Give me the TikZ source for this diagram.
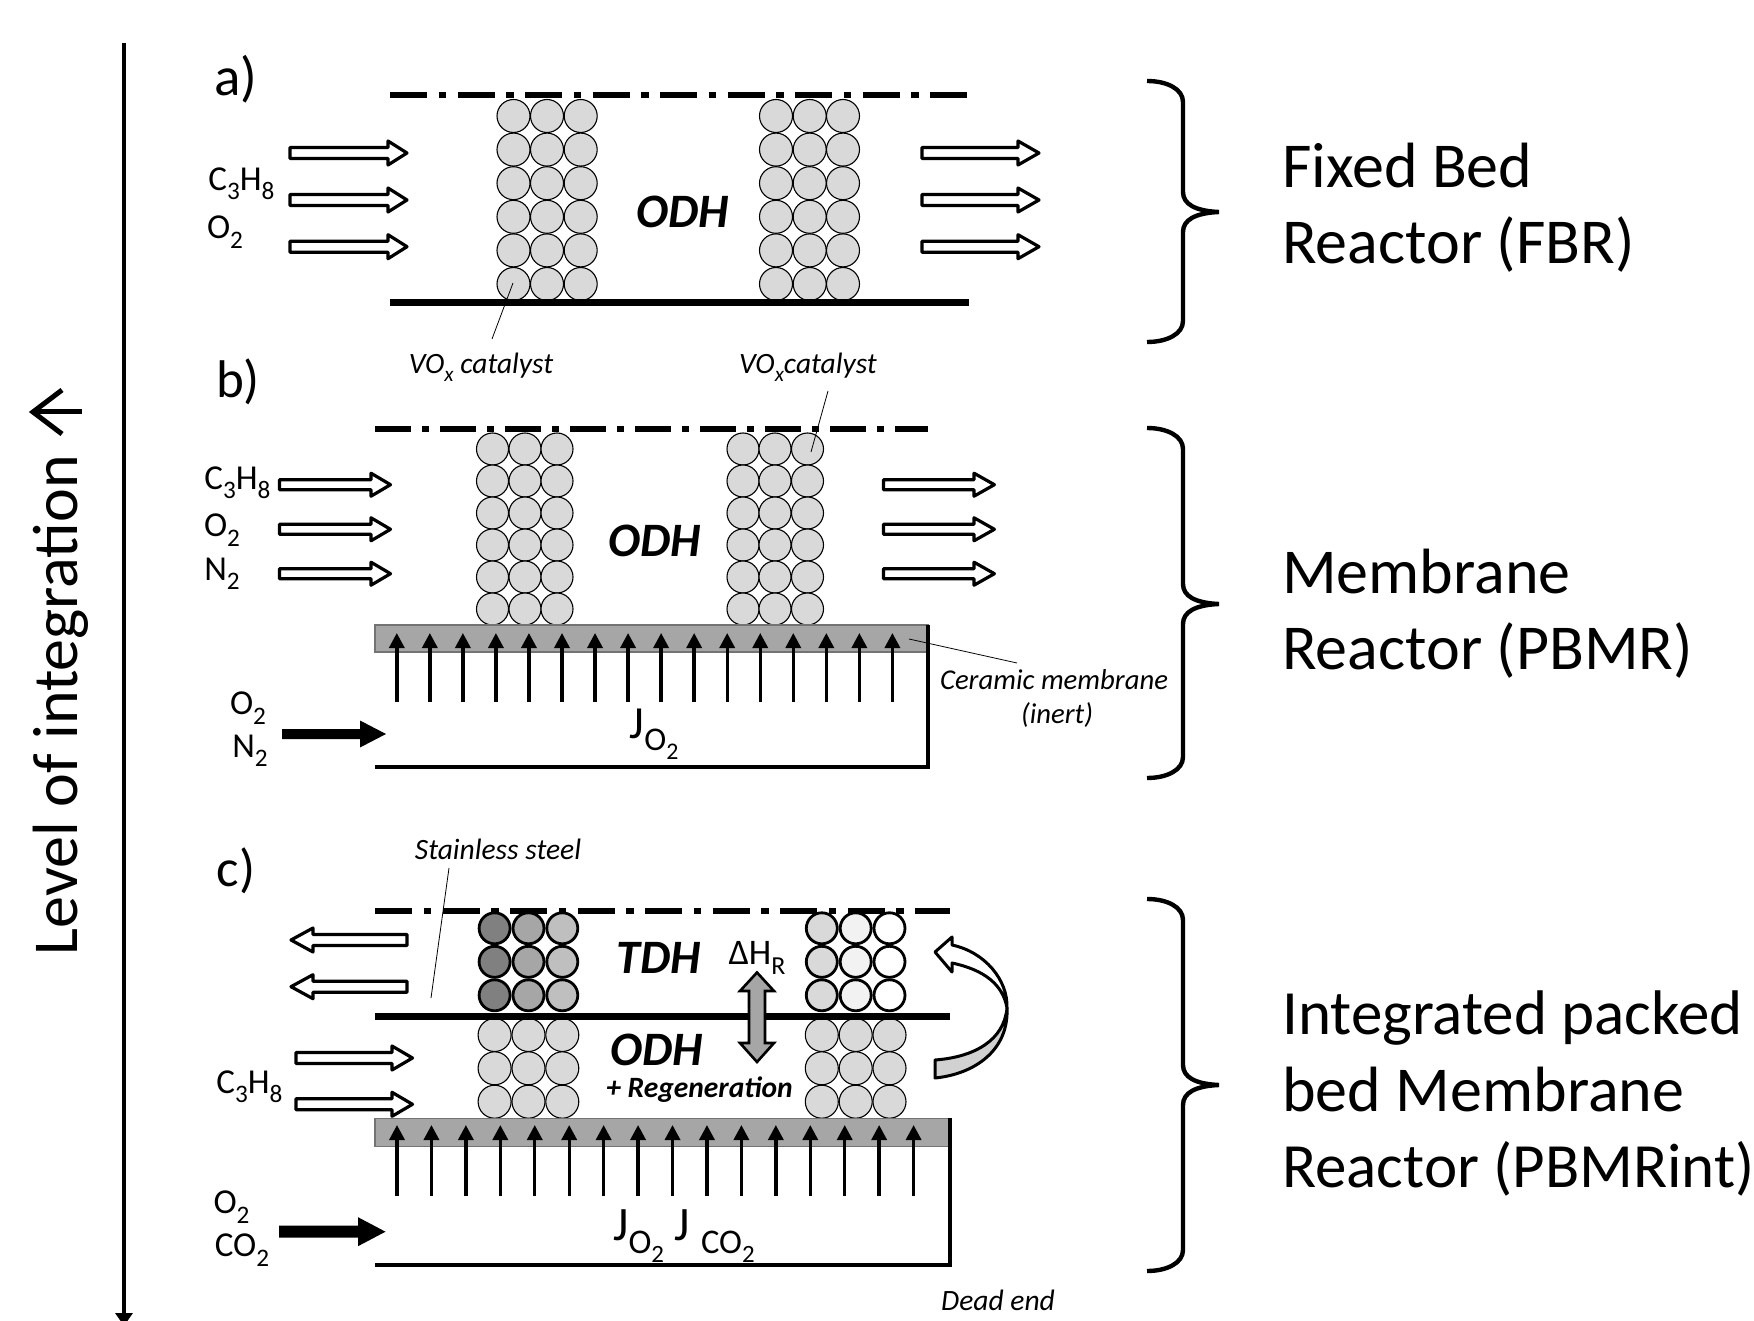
\documentclass[tikz,border=0pt]{standalone}
\usepackage{fontspec}
\setmainfont{Carlito}
\usetikzlibrary{arrows.meta}
\tikzset{
 x=1pt,y=-1pt,
 bead/.style={circle,draw=black,line width=1.1pt,fill=#1,minimum size=33pt,inner sep=0pt},
 beadb/.style={circle,draw=black,line width=2.8pt,fill=#1,minimum size=31pt,inner sep=0pt},
 flow/.style={draw=black,line width=3.2pt,fill=white,line join=round},
 solidflow/.style={draw=none,fill=black},
 wall/.style={line width=#1,line cap=butt},
 sym/.style={line width=5.5pt,dash pattern=on 37pt off 11.5pt on 7.5pt off 11.5pt},
 lead/.style={line width=.8pt},
 mem/.style={draw=black!55,line width=1.2pt,fill=black!35},
 jarrow/.style={line width=3.4pt,-{Triangle[length=15pt,width=15pt]}},
 lbl/.style={inner sep=0pt,font=\fontsize{#1}{#1}\selectfont},
 lbl/.default=35,
 ital/.style={inner sep=0pt,font=\fontsize{29.5}{29.5}\selectfont\itshape},
 italm/.style={inner sep=0pt,font=\fontsize{28.7}{28.7}\selectfont\itshape},
 big/.style={inner sep=0pt,font=\fontsize{64}{76}\selectfont,align=left,anchor=base west},
 rxn/.style={inner sep=0pt,font=\fontsize{48}{48}\selectfont\bfseries\itshape},
 brace/.style={line width=4.4pt,line cap=butt},
}
\newcommand{\sbs}[1]{\raisebox{-.27em}{\scalebox{.72}{#1}}}
\newcommand{\flowR}[5]{% x0 xhead xtip y half
 \path[flow] (#1,#4-#5) -- (#2,#4-#5) -- (#2,#4-#5-6.5) -- (#3,#4) -- (#2,#4+#5+6.5) -- (#2,#4+#5) -- (#1,#4+#5) -- cycle;}
\newcommand{\solidR}[5]{%
 \path[solidflow] (#1,#4-#5) -- (#2,#4-#5) -- (#2,#4-#5-8.5) -- (#3,#4) -- (#2,#4+#5+8.5) -- (#2,#4+#5) -- (#1,#4+#5) -- cycle;}
\newcommand{\bigbrace}[4]{% x0 top tip bottom
 \draw[brace] (#1,#2) .. controls (#1+20,#2) and (#1+36,#2+8) .. (#1+36,#2+21)
  -- (#1+36,#3-20) .. controls (#1+36,#3-8) and (#1+48,#3-1) .. (#1+72,#3)
  .. controls (#1+48,#3+1) and (#1+36,#3+8) .. (#1+36,#3+20)
  -- (#1+36,#4-21) .. controls (#1+36,#4-8) and (#1+20,#4) .. (#1,#4);}
\begin{document}
\begin{tikzpicture}
\useasboundingbox (0,0) rectangle (1754,1321);
\fill[white] (0,0) rectangle (1754,1321);

% axis
\coordinate (axA) at (124,43);
\coordinate (axB) at (124,1326);
\draw[line width=4pt,-{Triangle[length=13pt,width=17pt]}] (axA) -- (axB);
\node[rotate=90,inner sep=0pt,anchor=base,font=\fontsize{64}{64}\selectfont] (lev) at (77,705) {Level of integration};
\coordinate (ar1) at (82,412);
\coordinate (ar2) at (33,412);
\coordinate (ar3) at (62,390);
\coordinate (ar4) at (62,434);
\draw[line width=5pt] (ar1) -- (ar2);
\draw[line width=5pt,line join=miter] (ar3) -- (ar2) -- (ar4);

% ===== a =====
\node[lbl=55] (la) at (236,79) {a)};
\foreach \x in {513.5,547,580.7,776,809.7,843}
 \foreach \y in {116,149.6,183.2,216.8,250.4,284}
  \node[bead=black!15] at (\x,\y) {};
\draw[sym] (390,95) -- (969,95);
\draw[wall=7pt] (390,303) -- (969,303);
\foreach \y in {153,200,246.7}{\flowR{290}{388}{407}{\y}{5.5}\flowR{922}{1018}{1039}{\y}{5.5}}
\node[rxn] (oa) at (683,212) {ODH};
\node[lbl] (a1) at (241.5,184) {C\sbs{3}H\sbs{8}};
\node[lbl] (a2) at (225,232) {O\sbs{2}};
\node[ital] (ca) at (481,367.5) {VO\sbs{x} catalyst};
\node[ital] (cb) at (808,367.5) {VO\sbs{x}catalyst};
\coordinate (ca1) at (513,283);
\draw[lead] (ca1) -- (492,339);

% ===== b =====
\node[lbl=53] (lb) at (238,382) {b)};
\foreach \x in {492.5,525,557,743,775,807.5}
 \foreach \y in {449,481,513,545,577,609}
  \node[bead=black!15,minimum size=32pt] at (\x,\y) {};
\draw[sym,dash pattern=on 36pt off 11.3pt on 6.4pt off 11.3pt] (375,429) -- (928,429);
\foreach \y in {484.7,529.3,573.7}{\flowR{279.5}{371}{390.5}{\y}{5}\flowR{883.5}{974}{994.4}{\y}{5}}
\node[rxn] (ob) at (655,541) {ODH};
\coordinate (cb1) at (828,391);
\draw[lead] (cb1) -- (811,452);
\node[lbl] (b1) at (237.5,483) {C\sbs{3}H\sbs{8}};
\node[lbl] (b2) at (222,530) {O\sbs{2}};
\node[lbl] (b3) at (222,574) {N\sbs{2}};
\draw[mem] (375,625) rectangle (928,652);
\foreach \i in {0,...,15}
 \draw[jarrow] (396.8+33.04*\i,702) -- (396.8+33.04*\i,633);
\draw[wall=4.4pt] (375,767) -- (928,767) -- (928,625);
\solidR{282}{360}{386}{734}{5}
\node[lbl] (b4) at (248,708) {O\sbs{2}};
\node[lbl] (b5) at (250,751) {N\sbs{2}};
\node[lbl=46] (jb) at (654,734) {J\sbs{O\sbs{2}}};
\node[italm] (cm) at (1054,680) {Ceramic membrane};
\node[italm] (ci) at (1057,715) {(inert)};
\coordinate (cm1) at (909,639);
\draw[lead] (cm1) -- (1017,663);

% ===== c =====
\node[lbl=53] (lc) at (236,871) {c)};
\foreach \y in {928.3,961.8,995.3}{
 \node[beadb=black!50] at (494.6,\y) {};
 \node[beadb=black!35] at (528.5,\y) {};
 \node[beadb=black!25] at (562.3,\y) {};
 \node[beadb=black!15] at (821.8,\y) {};
 \node[beadb=black!5] at (855.7,\y) {};
 \node[beadb=white] at (889.5,\y) {};
}
\foreach \x in {494.6,528.5,562.3,821.8,855.7,889.5}
 \foreach \y in {1035,1068.3,1101.7}
  \node[bead=black!15] at (\x,\y) {};
\draw[sym] (375,911) -- (950,911);
\draw[wall=7pt] (375,1016) -- (950,1016);
\foreach \y in {940,986.7}{
 \path[flow] (407,\y-5.5) -- (313,\y-5.5) -- (313,\y-12) -- (291,\y) -- (313,\y+12) -- (313,\y+5.5) -- (407,\y+5.5) -- cycle;}
\foreach \y in {1058,1104.3}{\flowR{296}{392}{412.5}{\y}{5.5}}
\node[rxn] (tc) at (659,958) {TDH};
\node[rxn] (oc) at (657,1050) {ODH};
\node[inner sep=0pt,font=\fontsize{29.5}{29.5}\selectfont\bfseries\itshape] (rg) at (699.5,1090) {+ Regeneration};
\node[lbl=36] (dh) at (757,958) {ΔH\sbs{R}};
\path[draw=black,line width=2.6pt,fill=black!35] (757,972.5) -- (774,991) -- (765,991) -- (765,1043) -- (774,1043) -- (757,1062) -- (740,1043) -- (749,1043) -- (749,991) -- (740,991) -- cycle;
\node[lbl] (c1) at (249.5,1087) {C\sbs{3}H\sbs{8}};
\draw[mem] (375,1118.5) rectangle (950,1146.5);
\foreach \i in {0,...,15}
 \draw[jarrow] (397+34.44*\i,1196) -- (397+34.44*\i,1125);
\draw[wall=4.4pt] (375,1265) -- (950,1265) -- (950,1118);
\solidR{279}{358}{385.5}{1231.7}{6}
\node[lbl] (c2) at (231.5,1207) {O\sbs{2}};
\node[lbl] (c3) at (242,1250) {CO\sbs{2}};
\node[lbl=48] (jc) at (684,1236) {J\sbs{O\sbs{2}} J \sbs{CO\sbs{2}}};
\node[ital] (dd) at (998,1300) {Dead end};
\node[ital] (ss) at (498,849) {Stainless steel};
\coordinate (ss1) at (449,868);
\draw[lead] (ss1) -- (431,998);
% curved arrow
\path[draw=black,line width=3pt,fill=black!18,line join=round] (935,1060) .. controls (975,1057) and (1004,1040) .. (1007,1008)
  .. controls (1009,1050) and (975,1074) .. (935,1078) -- cycle;
\path[draw=black,line width=3pt,fill=white,line join=round] (1007,1008) .. controls (1008,980) and (985,952) .. (952,945)
  -- (952,937) -- (935,952) -- (952,972) -- (952,963) .. controls (985,970) and (1003,985) .. (1007,1008) -- cycle;

% ===== braces & names =====
\bigbrace{1147}{81}{212}{342}
\bigbrace{1147}{428}{604}{778}
\bigbrace{1147}{899}{1085}{1271}
\node[big] (n1) at (1282,188) {Fixed Bed};
\node[big] (n2) at (1282,264) {Reactor (FBR)};
\node[big] (n3) at (1282,593) {Membrane};
\node[big] (n4) at (1282,669) {Reactor (PBMR)};
\node[big,font=\fontsize{63}{76}\selectfont] (n5) at (1282,1034) {Integrated packed};
\node[big] (n6) at (1282,1111) {bed Membrane};
\node[big,font=\fontsize{63}{76}\selectfont] (n7) at (1282,1187) {Reactor (PBMRint)};
\end{tikzpicture}
\end{document}
